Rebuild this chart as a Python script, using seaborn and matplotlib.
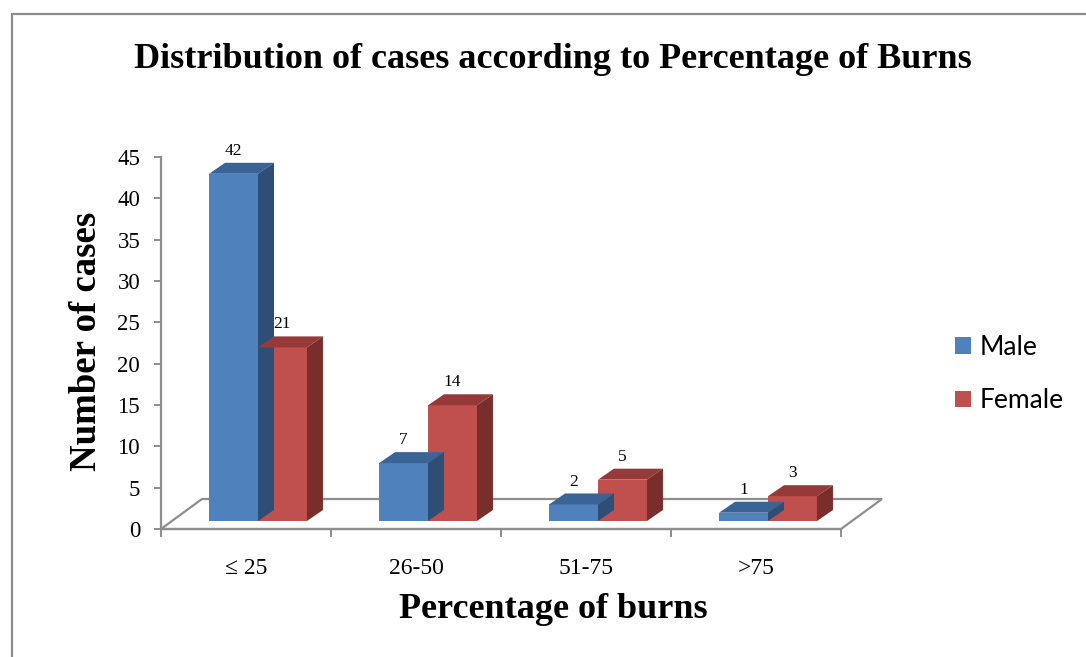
import numpy as np
import pandas as pd
import matplotlib
matplotlib.use("Agg")
import matplotlib.pyplot as plt
import seaborn as sns
from matplotlib.transforms import ScaledTranslation
from matplotlib.patches import Polygon
from matplotlib.lines import Line2D

# ---- data ----
categories = ["≤ 25", "26-50", "51-75", ">75"]
male = [42, 7, 2, 1]
female = [21, 14, 5, 3]
series_names = ["Male", "Female"]
yticks = [0, 5, 10, 15, 20, 25, 30, 35, 40, 45]

df = pd.DataFrame({
    "Percentage": categories * 2,
    "Cases": male + female,
    "Sex": [series_names[0]] * len(categories) + [series_names[1]] * len(categories),
})

sns.set_theme(style="white")
plt.rcParams["font.family"] = ["Liberation Serif", "DejaVu Serif"]
plt.rcParams["text.color"] = "black"
plt.rcParams["axes.labelcolor"] = "black"
plt.rcParams["xtick.labelcolor"] = "black"
plt.rcParams["ytick.labelcolor"] = "black"

W, H, DPI = 1086, 657, 100
fig = plt.figure(figsize=(W / DPI, H / DPI), dpi=DPI)
ax = fig.add_axes([161 / W, (H - 529) / H, (841 - 161) / W, (529 - 157) / H])

front_col = ["#4F81BD", "#C0504D"]
top_col = ["#3B6496", "#953A38"]
side_col = ["#2F4E76", "#7A2E2C"]

sns.barplot(data=df, x="Percentage", y="Cases", hue="Sex", order=categories,
            hue_order=series_names, palette=front_col, saturation=1,
            width=0.576, gap=0, edgecolor="none", linewidth=0, ax=ax, zorder=3)

ax.set_xlim(-0.5, len(categories) - 0.5)
ax.set_ylim(0, 45)

# floor (3D base)
fdx, fdy = 41 / 170, 30 / ((529 - 157) / 45)
n = len(categories)
floor = Polygon([(-0.5, 0), (n - 0.5, 0), (n - 0.5 + fdx, fdy), (-0.5 + fdx, fdy)],
                closed=True, facecolor="white", edgecolor="#8E8E8E", lw=1.6,
                zorder=1, clip_on=False)
ax.add_patch(floor)

# shift bars into 3D depth and add top/side faces
shift = ax.transData + ScaledTranslation(12 / DPI, 8 / DPI, fig.dpi_scale_trans)
ddx, ddy = 16, 11
for i, cont in enumerate(ax.containers):
    for p in cont.patches:
        p.set_transform(shift)
        x, w, h = p.get_x(), p.get_width(), p.get_height()
        (x0, y0), (x1, y1), (x2, y2) = shift.transform([(x, h), (x + w, h), (x + w, 0)])
        top = Polygon([(x0, y0), (x1, y1), (x1 + ddx, y1 + ddy), (x0 + ddx, y0 + ddy)],
                      closed=True, transform=None, facecolor=top_col[i],
                      edgecolor="none", zorder=4)
        side = Polygon([(x1, y1), (x2, y2), (x2 + ddx, y2 + ddy), (x1 + ddx, y1 + ddy)],
                       closed=True, transform=None, facecolor=side_col[i],
                       edgecolor="none", zorder=4)
        fig.add_artist(top)
        fig.add_artist(side)
        ax.annotate(f"{int(h)}", xy=(x + w / 2, h), xycoords=shift,
                    xytext=(0, 16.5), textcoords="offset points",
                    ha="center", va="center", fontsize=12.5, color="black",
                    zorder=6)

# axes styling
for s in ["top", "right"]:
    ax.spines[s].set_visible(False)
for s in ["left", "bottom"]:
    ax.spines[s].set_color("#8E8E8E")
    ax.spines[s].set_linewidth(1.6)
    ax.spines[s].set_zorder(2)

ax.set_yticks(yticks)
ax.set_yticklabels([str(v) for v in yticks], fontsize=16.5)
ax.tick_params(axis="y", length=5, width=1.4, color="#8E8E8E", pad=10, left=True)

ax.set_xticks(np.arange(-0.5, n, 1.0))
ax.set_xticklabels([""] * (n + 1))
ax.tick_params(axis="x", which="major", length=6, width=1.4, color="#8E8E8E", bottom=True)
ax.set_xticks(np.arange(n), minor=True)
ax.set_xticklabels(categories, minor=True, fontsize=17)
ax.tick_params(axis="x", which="minor", length=0, pad=21)

ax.set_xlabel("Percentage of burns", fontsize=26, fontweight="bold")
ax.xaxis.label.set_va("center")
ax.xaxis.set_label_coords((553 - 161) / 680, (529 - 610) / 372)
ax.set_ylabel("Number of cases", fontsize=26.5, fontweight="bold")
ax.yaxis.label.set_va("center")
ax.yaxis.set_label_coords((87 - 161) / 680, (529 - 341) / 372)

fig.text(553 / W, 1 - 60 / H, "Distribution of cases according to Percentage of Burns",
         ha="center", va="center", fontsize=26, fontweight="bold")

# legend
handles, labels = ax.get_legend_handles_labels()
if ax.legend_ is not None:
    ax.legend_.remove()
fig.legend(handles, labels, loc="center left", bbox_to_anchor=(931 / W, 1 - 374 / H),
           frameon=False, prop={"family": ["Lato", "DejaVu Sans"], "size": 19},
           handlelength=0.6, handleheight=0.6, labelspacing=1.08, handletextpad=0.35)

# outer frame
fc = "#8C8C8C"
fig.add_artist(Line2D([12 / W, 1], [1 - 14 / H, 1 - 14 / H], transform=fig.transFigure,
                      color=fc, lw=1.6))
fig.add_artist(Line2D([12 / W, 12 / W], [0, 1 - 14 / H], transform=fig.transFigure,
                      color=fc, lw=1.6))

fig.savefig("out.png", dpi=DPI, facecolor="white")
